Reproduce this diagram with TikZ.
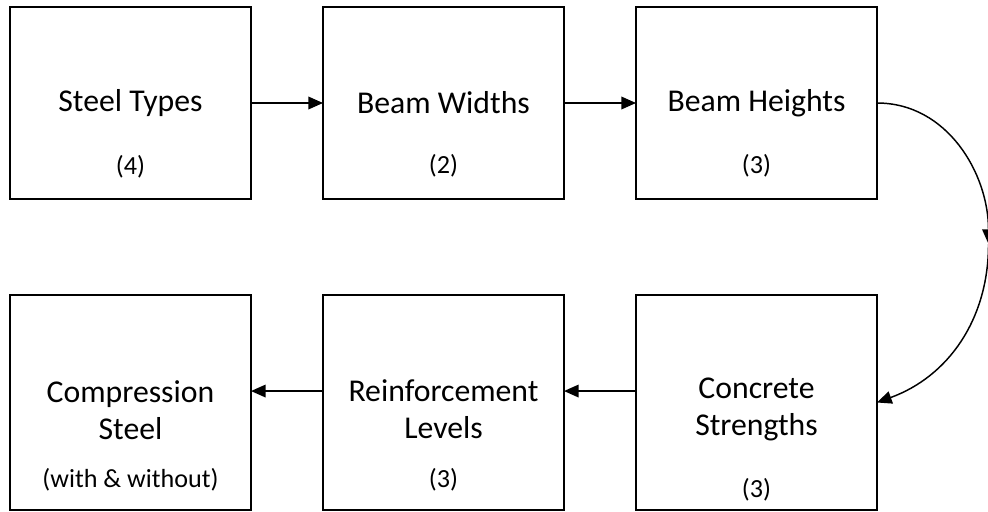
\documentclass[tikz,border=0pt]{standalone}
\usepackage{fontspec}
\setmainfont{Carlito}
\usetikzlibrary{positioning,arrows.meta}

\begin{document}
\begin{tikzpicture}[
    x=0.75pt, y=-0.75pt,
    stage/.style={draw, line width=1.4pt, minimum width=180.75pt, minimum height=#1, inner sep=0pt, outer sep=0pt},
    title/.style={font=\fontsize{23.8}{27.75}\selectfont, align=center},
    count/.style={font=\fontsize{19.6}{23}\selectfont},
    flow/.style={-{Triangle[length=11pt,width=9.5pt]}, line width=1.1pt},
    node distance=72pt and 54pt
  ]
    \useasboundingbox (0,0) rectangle (988,511);

    \node[stage=144pt, anchor=north west] (types) at (10,7) {};
    \node[stage=144pt, right=of types] (widths) {};
    \node[stage=144pt, right=of widths] (heights) {};
    \node[stage=161.25pt, below=of heights] (concrete) {};
    \node[stage=161.25pt, left=of concrete] (levels) {};
    \node[stage=161.25pt, left=of levels] (compression) {};

    \node[title] (typesname) at (types.center) {Steel Types};
    \node[count] (typesnum) at ([yshift=24.5pt]types.south) {(4)};
    \node[title] (widthsname) at (widths.center) {Beam Widths};
    \node[count] (widthsnum) at ([yshift=25pt]widths.south) {(2)};
    \node[title] (heightsname) at (heights.center) {Beam Heights};
    \node[count] (heightsnum) at ([yshift=25pt]heights.south) {(3)};
    \node[title] (concretename) at ([yshift=-5pt]concrete.center) {Concrete\\Strengths};
    \node[count] (concretenum) at ([yshift=15pt]concrete.south) {(3)};
    \node[title] (levelsname) at ([yshift=-5pt]levels.center) {Reinforcement\\Levels};
    \node[count] (levelsnum) at ([yshift=22.5pt]levels.south) {(3)};
    \node[title] (compressionname) at ([yshift=-5.5pt]compression.center) {Compression\\Steel};
    \node[count] (compressionnum) at ([yshift=22.5pt]compression.south) {(with \& without)};

    \coordinate (turn) at (988.5,244);

    \draw[flow] (types) -- (widths);
    \draw[flow] (widths) -- (heights);
    \draw[flow] (heights.east) to[out=0, in=90] (turn);
    \draw[flow] (turn) to[out=-90, in=20] (concrete.east);
    \draw[flow] ([yshift=8.6pt]concrete.west) -- ([yshift=8.6pt]levels.east);
    \draw[flow] ([yshift=8.6pt]levels.west) -- ([yshift=8.6pt]compression.east);
  \end{tikzpicture}
\end{document}
